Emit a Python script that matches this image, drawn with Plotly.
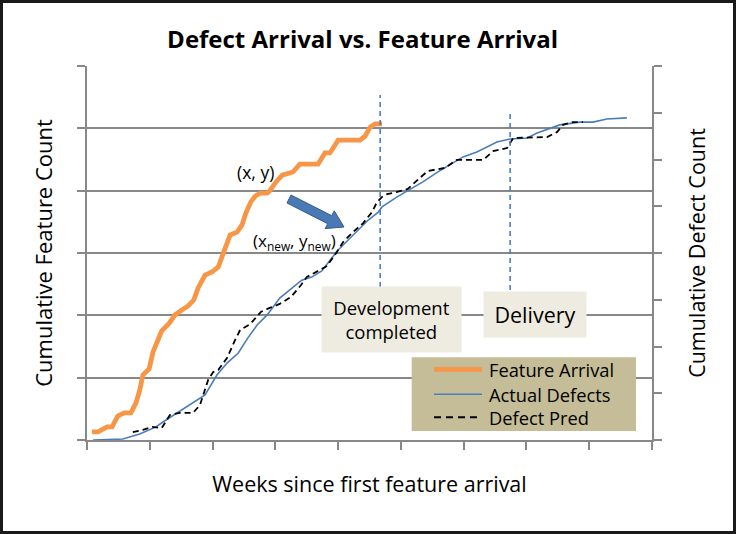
import plotly.graph_objects as go

# ---- data (weeks since first feature arrival) ----
feat_weeks = [0.8, 1.75, 3.2, 4.0, 4.9, 5.9, 7.0, 7.8, 8.4, 8.9, 9.9, 10.5, 11.3, 11.9, 13.1, 14.0,
              15.1, 16.1, 17.0, 17.7, 18.8, 19.9, 20.9, 21.7, 22.3, 22.8, 23.9, 24.7, 25.3, 26.1,
              26.8, 27.6, 28.7, 29.1, 30.1, 31.1, 32.8, 33.9, 36.8, 37.9, 38.7, 40.0, 43.5, 44.3,
              45.1, 45.9, 47.0]
feat_count = [2.6, 2.6, 4.2, 4.2, 7.7, 8.7, 8.7, 11.9, 16.0, 20.9, 22.8, 28.2, 32.1, 35.0, 37.5, 40.1,
              41.7, 43.0, 44.9, 48.8, 52.9, 53.9, 55.5, 60.3, 63.5, 65.8, 66.7, 69.0, 72.8, 76.4,
              78.3, 79.2, 79.2, 79.9, 82.8, 85.0, 86.0, 88.5, 88.5, 92.1, 92.1, 96.2, 96.2, 97.5,
              100.4, 101.4, 101.4]

act_weeks = [0.96, 5.7, 8.4, 11.0, 12.1, 14.3, 15.9, 18.0, 18.8, 20.7, 22.3, 24.1, 25.6, 27.1, 28.7,
             30.7, 32.3, 34.2, 35.8, 37.4, 39.0, 40.0, 42.4, 44.8, 46.4, 47.0, 49.4, 51.4, 53.5,
             55.9, 57.8, 59.9, 62.1, 63.7, 65.3, 67.4, 70.1, 71.7, 73.3, 75.3, 78.5, 80.6, 82.8, 86.0]
act_defects = [0, 0.4, 2.6, 5.6, 7.7, 11.6, 14.1, 17.8, 19.3, 27.8, 32.9, 37.2, 43.6, 49.2, 53.5,
               60.7, 64.2, 68.4, 69.7, 72.3, 77.9, 81.3, 87.7, 94.1, 97.5, 99.7, 104.0, 107.0, 110.4,
               114.7, 117.6, 121.1, 123.2, 125.3, 127.5, 128.8, 129.2, 131.3, 133.0, 134.8, 136.0,
               136.0, 137.3, 137.8]

pred_weeks = [7.3, 8.9, 10.4, 11.9, 13.2, 14.8, 16.9, 18.0, 19.3, 20.1, 20.9, 22.3, 23.6, 24.4, 26.0,
              27.7, 29.1, 30.7, 32.5, 34.1, 35.0, 36.6, 38.2, 39.8, 40.8, 42.4, 44.0, 45.4, 46.2,
              47.0, 47.8, 49.4, 51.1, 53.0, 54.3, 57.0, 58.9, 63.1, 64.7, 66.9, 67.9, 73.3, 74.9,
              75.8, 77.3, 79.0]
pred_defects = [3.4, 4.3, 5.6, 5.1, 10.7, 11.6, 11.6, 15.0, 25.7, 29.1, 29.9, 35.1, 42.8, 47.1, 49.6,
                54.8, 56.5, 58.2, 61.2, 66.3, 69.7, 71.9, 74.4, 80.4, 84.7, 89.0, 92.8, 97.5, 101.8,
                104.0, 105.2, 106.1, 107.4, 112.1, 115.1, 116.4, 119.8, 119.8, 123.6, 124.9, 129.2,
                129.6, 131.8, 134.8, 136.0, 136.0]

series_names = ["Feature Arrival", "Actual Defects", "Defect Pred"]
series_colors = ["#F79646", "#4A7EBB", "#000000"]

dev_completed_week = 46.7
delivery_week = 67.4

FONT = "Open Sans"
GRID = "#888888"

# pixel -> paper helpers for decorations (plot area: x 87..652, y 66..440)
def px(x):
    return (x - 87) / 565.0

def py(y):
    return (440 - y) / 374.0

fig = go.Figure()
fig.add_trace(go.Scatter(x=feat_weeks, y=feat_count, name=series_names[0], mode="lines",
                         line=dict(color=series_colors[0], width=4.8), yaxis="y", showlegend=False))
fig.add_trace(go.Scatter(x=act_weeks, y=act_defects, name=series_names[1], mode="lines",
                         line=dict(color=series_colors[1], width=1.6), yaxis="y2", showlegend=False))
fig.add_trace(go.Scatter(x=pred_weeks, y=pred_defects, name=series_names[2], mode="lines",
                         line=dict(color=series_colors[2], width=1.8, dash="6px,4px"), yaxis="y2",
                         showlegend=False))

shapes = []
# event markers
for wk, top, bot in [(dev_completed_week, 147.6, 65.5), (delivery_week, 139.9, 64.2)]:
    shapes.append(dict(type="line", xref="x", yref="y2", x0=wk, x1=wk, y0=bot, y1=top,
                       line=dict(color="#4A7EBB", width=1.6, dash="5px,4px")))

# block arrow from (x, y) to (x_new, y_new)
arrow_path = ("M 32.49 78.61 L 38.98 71.97 L 39.38 73.54 L 40.94 68.34 "
              "L 37.94 67.83 L 38.34 69.40 L 31.86 76.04 Z")
shapes.append(dict(type="path", xref="x", yref="y", path=arrow_path,
                   fillcolor="#4A7AB5", line=dict(color="#35598A", width=1)))

# legend box (drawn)
shapes.append(dict(type="rect", xref="paper", yref="paper", x0=px(411.7), x1=px(636),
                   y0=py(431), y1=py(357.3), fillcolor="#C4BD97", line=dict(width=0), layer="above"))
legend_rows = [369.3, 394.3, 417.3]
legend_styles = [dict(width=4.8), dict(width=1.6), dict(width=2, dash="7px,5px")]
for row, col, sty in zip(legend_rows, series_colors, legend_styles):
    shapes.append(dict(type="line", xref="paper", yref="paper", x0=px(434), x1=px(482),
                       y0=py(row), y1=py(row), line=dict(color=col, **sty), layer="above"))

# outer frame
shapes.append(dict(type="rect", xref="paper", yref="paper",
                   x0=px(1.5), x1=px(734.5), y0=py(532.5), y1=py(1.5),
                   line=dict(color="#1a1a1a", width=3), fillcolor="rgba(0,0,0,0)", layer="above"))

annotations = [
    dict(x=48.5, y=51.6, xref="x", yref="y2", text="Development<br>completed", showarrow=False,
         bgcolor="#EEECE1", width=139, height=65, borderpad=0,
         font=dict(family=FONT, size=18.5, color="#000")),
    dict(x=71.4, y=53.6, xref="x", yref="y2", text="Delivery", showarrow=False,
         bgcolor="#EEECE1", width=102, height=45, borderpad=0,
         font=dict(family=FONT, size=21.5, color="#000")),
    dict(x=26.8, y=86.0, xref="x", yref="y", text="(x, y)", showarrow=False,
         font=dict(family=FONT, size=17.5, color="#000")),
    dict(x=33.0, y=63.8, xref="x", yref="y", text="(x<sub>new</sub>, y<sub>new</sub>)", showarrow=False,
         font=dict(family=FONT, size=17, color="#000")),
]
for row, name in zip(legend_rows, series_names):
    annotations.append(dict(x=px(487), y=py(row), xref="paper", yref="paper", text=name,
                            xanchor="left", yanchor="middle", showarrow=False,
                            font=dict(family=FONT, size=18.3, color="#000")))

fig.update_layout(
    width=736, height=534,
    margin=dict(l=87, r=84, t=66, b=94),
    paper_bgcolor="white", plot_bgcolor="white",
    font=dict(family=FONT, color="#000"),
    showlegend=False,
    title=dict(text="<b>Defect Arrival vs. Feature Arrival</b>", x=362.6 / 736, xanchor="center",
               y=1 - 40 / 534, yanchor="middle", font=dict(family=FONT, size=24, color="#000")),
    xaxis=dict(range=[0, 90], dtick=10, tick0=0, showgrid=False, zeroline=False,
               showline=True, linecolor=GRID, linewidth=1.5, ticks="outside", ticklen=8,
               tickcolor=GRID, tickwidth=1.5, showticklabels=False,
               title=dict(text="Weeks since first feature arrival", standoff=28,
                          font=dict(family=FONT, size=21.5))),
    yaxis=dict(range=[0, 120], dtick=20, tick0=0, showgrid=True, gridcolor=GRID, gridwidth=1.5,
               zeroline=False, showline=True, linecolor=GRID, linewidth=1.5, ticks="outside",
               ticklen=8, tickcolor=GRID, tickwidth=1.5, showticklabels=False,
               title=dict(text="Cumulative Feature Count", standoff=19,
                          font=dict(family=FONT, size=22))),
    yaxis2=dict(range=[0, 160], dtick=20, tick0=0, overlaying="y", side="right", showgrid=False,
                zeroline=False, showline=True, linecolor=GRID, linewidth=1.5, ticks="outside",
                ticklen=8, tickcolor=GRID, tickwidth=1.5, showticklabels=False,
                title=dict(text="Cumulative Defect Count", standoff=29,
                           font=dict(family=FONT, size=21.5))),
    shapes=shapes,
    annotations=annotations,
)

fig.write_html("out.html")
